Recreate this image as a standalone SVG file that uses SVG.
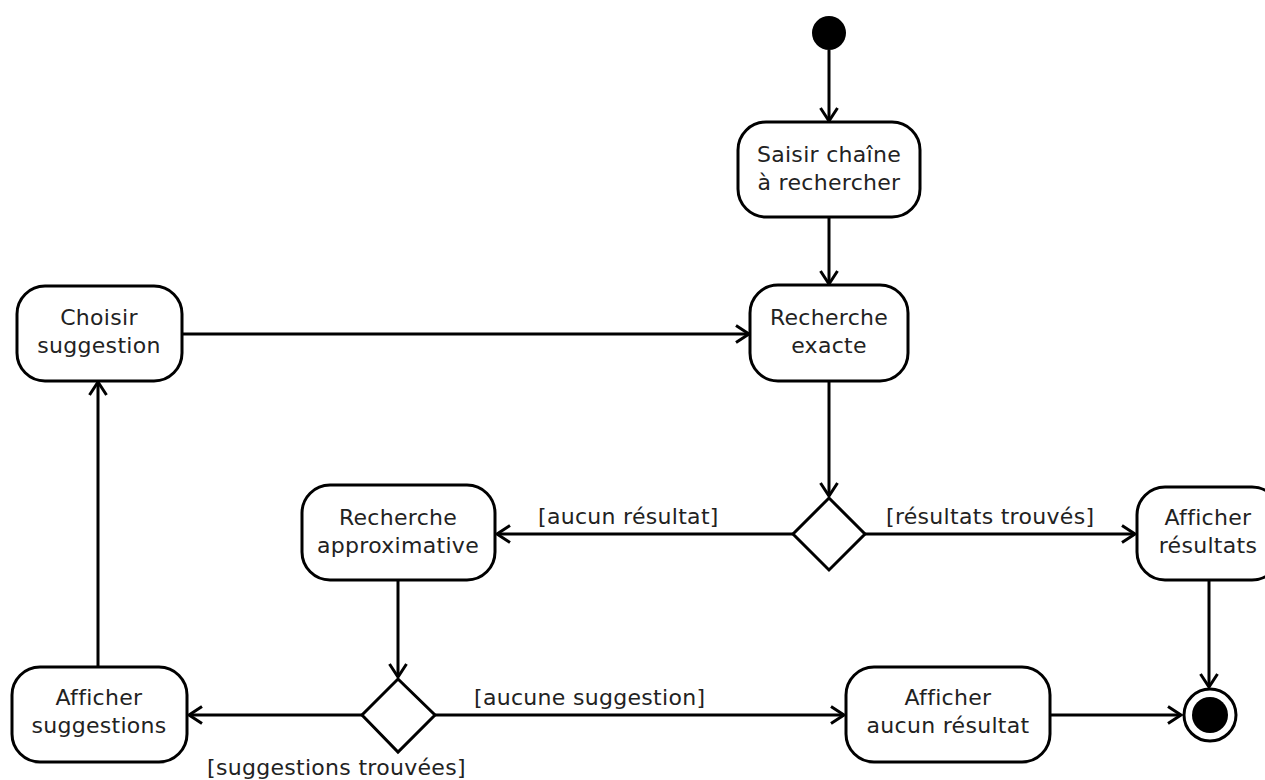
<svg xmlns="http://www.w3.org/2000/svg" width="1265" height="780" viewBox="0 0 1265 780">
<defs>
<marker id="arr" markerWidth="18" markerHeight="20" refX="14" refY="10" orient="auto" markerUnits="userSpaceOnUse">
<path d="M1,1.5 L14,10 L1,18.5" fill="none" stroke="#000" stroke-width="3"/>
</marker>
<style>
.n{fill:#fff;stroke:#000;stroke-width:3}
.t{font-family:"DejaVu Sans",sans-serif;font-size:22px;letter-spacing:0.3px;fill:#222;text-anchor:middle}
.l{font-family:"DejaVu Sans",sans-serif;font-size:22px;letter-spacing:0.3px;fill:#222}
.c{fill:none;stroke:#000;stroke-width:3;marker-end:url(#arr)}
</style>
</defs>
<rect width="1265" height="780" fill="#fff"/>
<g id="connectors">
<line class="c" x1="829" y1="50" x2="829" y2="121"/>
<line class="c" x1="829" y1="217" x2="829" y2="284"/>
<line class="c" x1="182" y1="334" x2="749" y2="334"/>
<line class="c" x1="829" y1="381" x2="829" y2="496"/>
<line class="c" x1="793" y1="534" x2="497" y2="534"/>
<line class="c" x1="865" y1="534" x2="1135" y2="534"/>
<line class="c" x1="1209" y1="580" x2="1209" y2="687"/>
<line class="c" x1="398" y1="580" x2="398" y2="677"/>
<line class="c" x1="362" y1="715" x2="189" y2="715"/>
<line class="c" x1="435" y1="715" x2="844" y2="715"/>
<line class="c" x1="1050" y1="715" x2="1181" y2="715"/>
<line class="c" x1="98" y1="667" x2="98" y2="382"/>
<text class="l" x="538" y="524">[aucun résultat]</text>
<text class="l" x="886" y="524">[résultats trouvés]</text>
<text class="l" x="474" y="705">[aucune suggestion]</text>
<text class="l" x="207" y="775">[suggestions trouvées]</text>
</g>
<g id="start"><circle cx="829" cy="33" r="17" fill="#000"/></g>
<g id="saisir"><rect class="n" x="738" y="122" width="182" height="95" rx="28"/><text class="t" x="829" y="162">Saisir chaîne</text><text class="t" x="829" y="190">à rechercher</text></g>
<g id="exacte"><rect class="n" x="750" y="285" width="158" height="96" rx="28"/><text class="t" x="829" y="325">Recherche</text><text class="t" x="829" y="353">exacte</text></g>
<g id="choisir"><rect class="n" x="17" y="286" width="165" height="95" rx="28"/><text class="t" x="99" y="325">Choisir</text><text class="t" x="99" y="353">suggestion</text></g>
<g id="decision1"><polygon class="n" points="829,498 865,534 829,570 793,534"/></g>
<g id="approx"><rect class="n" x="302" y="485" width="193" height="95" rx="28"/><text class="t" x="398" y="525">Recherche</text><text class="t" x="398" y="553">approximative</text></g>
<g id="resultats"><rect class="n" x="1137" y="487" width="143" height="93" rx="28"/><text class="t" x="1208" y="525">Afficher</text><text class="t" x="1208" y="553">résultats</text></g>
<g id="decision2"><polygon class="n" points="398,679 435,715 398,752 362,715"/></g>
<g id="suggestions"><rect class="n" x="12" y="667" width="175" height="95" rx="28"/><text class="t" x="99" y="705">Afficher</text><text class="t" x="99" y="733">suggestions</text></g>
<g id="aucun"><rect class="n" x="846" y="667" width="204" height="95" rx="28"/><text class="t" x="948" y="705">Afficher</text><text class="t" x="948" y="733">aucun résultat</text></g>
<g id="end"><circle cx="1210" cy="715" r="26" fill="#fff" stroke="#000" stroke-width="3"/><circle cx="1210" cy="715" r="18" fill="#000"/></g>
</svg>
